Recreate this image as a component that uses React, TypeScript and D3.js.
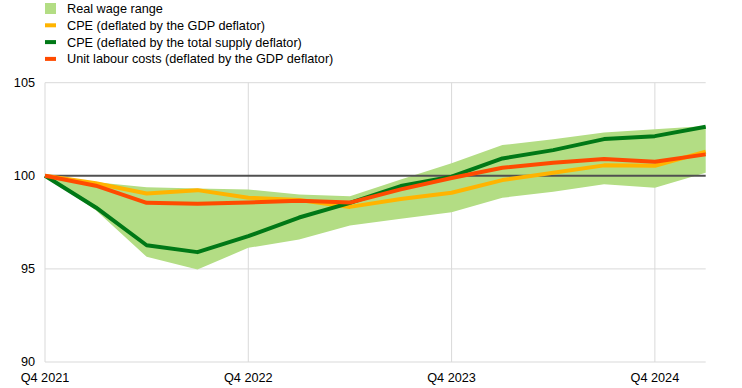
import React from 'react';
import * as d3 from 'd3';

const quarters = [
  'Q4 2021', 'Q1 2022', 'Q2 2022', 'Q3 2022', 'Q4 2022', 'Q1 2023', 'Q2 2023',
  'Q3 2023', 'Q4 2023', 'Q1 2024', 'Q2 2024', 'Q3 2024', 'Q4 2024', 'Q1 2025',
];
const xTickLabels = ['Q4 2021', 'Q4 2022', 'Q4 2023', 'Q4 2024'];
const yTicks = [90, 95, 100, 105];

const rangeHigh = [100, 99.65, 99.38, 99.32, 99.27, 99.0, 98.9, 99.8, 100.68, 101.65, 101.96, 102.33, 102.5, 102.67];
const rangeLow = [100, 98.15, 95.65, 94.97, 96.13, 96.58, 97.33, 97.7, 98.04, 98.82, 99.14, 99.55, 99.36, 100.16];
const cpeGdp = [100, 99.6, 99.05, 99.23, 98.82, 98.7, 98.33, 98.75, 99.09, 99.77, 100.16, 100.56, 100.54, 101.3];
const cpeTotal = [100, 98.3, 96.27, 95.9, 96.76, 97.76, 98.55, 99.45, 99.95, 100.93, 101.38, 101.97, 102.13, 102.63];
const ulc = [100, 99.47, 98.55, 98.5, 98.57, 98.66, 98.56, 99.27, 99.88, 100.43, 100.7, 100.9, 100.75, 101.15];

const legendItems = [
  { label: 'Real wage range', color: '#b3dd84', kind: 'area' },
  { label: 'CPE (deflated by the GDP deflator)', color: '#ffb400', kind: 'line' },
  { label: 'CPE (deflated by the total supply deflator)', color: '#007816', kind: 'line' },
  { label: 'Unit labour costs (deflated by the GDP deflator)', color: '#ff4b00', kind: 'line' },
];

const width = 742;
const height = 388;
const font = '"Liberation Sans", Arial, sans-serif';
const fs = 12.7;

const App: React.FC = () => {
  const x = d3.scaleLinear().domain([0, quarters.length - 1]).range([45, 705.7]);
  const y = d3.scaleLinear().domain([90, 105]).range([362, 82.7]);

  const line = d3.line<number>()
    .x((d, i) => x(i))
    .y(d => y(d));

  const area = d3.area<number>()
    .x((d, i) => x(i))
    .y0((d, i) => y(rangeLow[i]))
    .y1(d => y(d));

  const [xMin, xMax] = x.range();

  return (
    <svg width={width} height={height} style={{ position: 'absolute', left: 0, top: 0, fontFamily: font }}>
      <rect width={width} height={height} fill="#fff" />

      {/* legend */}
      {legendItems.map((item, i) => {
        const cy = 8.5 + i * 16.8;
        return (
          <g key={item.label}>
            {item.kind === 'area'
              ? <rect x={45} y={cy - 5.5} width={11} height={11} fill={item.color} />
              : <rect x={45} y={cy - 2} width={11} height={4} fill={item.color} />}
            <text x={67} y={cy} dy="0.35em" fontSize={fs} fill="#000">{item.label}</text>
          </g>
        );
      })}

      {/* grid */}
      {yTicks.filter(t => t !== 100).map(t => (
        <line key={t} x1={xMin} x2={xMax} y1={y(t)} y2={y(t)} stroke="#d9d9d9" strokeWidth={1} />
      ))}
      {xTickLabels.slice(1).map(lbl => {
        const xi = x(quarters.indexOf(lbl));
        return <line key={lbl} x1={xi} x2={xi} y1={y(105)} y2={y(90)} stroke="#d9d9d9" strokeWidth={1} />;
      })}
      <line x1={xMin} x2={xMin} y1={y(105)} y2={y(90)} stroke="#d9d9d9" strokeWidth={1} />

      {/* range */}
      <path d={area(rangeHigh) ?? ''} fill="#b3dd84" />

      {/* 100 baseline */}
      <line x1={xMin} x2={xMax} y1={y(100)} y2={y(100)} stroke="#505050" strokeWidth={2} />

      <path d={line(cpeGdp) ?? ''} fill="none" stroke="#ffb400" strokeWidth={4} strokeLinejoin="round" />
      <path d={line(cpeTotal) ?? ''} fill="none" stroke="#007816" strokeWidth={4} strokeLinejoin="round" />
      <path d={line(ulc) ?? ''} fill="none" stroke="#ff4b00" strokeWidth={4} strokeLinejoin="round" />

      {/* y tick labels */}
      {yTicks.map(t => (
        <text key={t} x={35} y={y(t)} dy="0.35em" textAnchor="end" fontSize={fs} fill="#000">{t}</text>
      ))}

      {/* x tick labels */}
      {xTickLabels.map(lbl => (
        <text key={lbl} x={x(quarters.indexOf(lbl))} y={378} dy="0.35em" textAnchor="middle" fontSize={fs} fill="#000">{lbl}</text>
      ))}
    </svg>
  );
};

export default App;
